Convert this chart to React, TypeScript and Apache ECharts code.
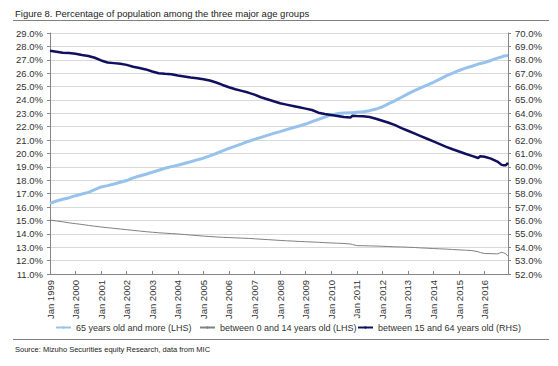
import React, { useEffect, useRef } from "react";
import * as echarts from "echarts";

const TITLE = "Figure 8. Percentage of population among the three major age groups";
const SOURCE = "Source: Mizuho Securities equity Research, data from MIC";

const dates = [
  "1999-01", "1999-04", "1999-07", "1999-10",
  "2000-01", "2000-04", "2000-07", "2000-10",
  "2001-01", "2001-04", "2001-07", "2001-10",
  "2002-01", "2002-04", "2002-07", "2002-10",
  "2003-01", "2003-04", "2003-07", "2003-10",
  "2004-01", "2004-04", "2004-07", "2004-10",
  "2005-01", "2005-04", "2005-07", "2005-10",
  "2006-01", "2006-04", "2006-07", "2006-10",
  "2007-01", "2007-04", "2007-07", "2007-10",
  "2008-01", "2008-04", "2008-07", "2008-10",
  "2009-01", "2009-04", "2009-07", "2009-10",
  "2010-01", "2010-04", "2010-07", "2010-10", "2010-11",
  "2011-01", "2011-04", "2011-07", "2011-10",
  "2012-01", "2012-04", "2012-07", "2012-10",
  "2013-01", "2013-04", "2013-07", "2013-10",
  "2014-01", "2014-04", "2014-07", "2014-10",
  "2015-01", "2015-04", "2015-07", "2015-10", "2015-11",
  "2016-01", "2016-04", "2016-07", "2016-09", "2016-10", "2016-11", "2016-12",
];

// 65 years old and more (LHS, %)
const aged65Plus = [
  16.28, 16.45, 16.58, 16.7,
  16.85, 16.97, 17.1, 17.3,
  17.5, 17.6, 17.72, 17.85,
  17.98, 18.18, 18.32, 18.45,
  18.6, 18.75, 18.9, 19.02,
  19.12, 19.25, 19.38, 19.52,
  19.65, 19.82, 20.0, 20.2,
  20.38, 20.55, 20.72, 20.9,
  21.05, 21.2, 21.35, 21.5,
  21.63, 21.78, 21.92, 22.05,
  22.2, 22.38, 22.55, 22.72,
  22.88, 22.98, 23.02, 23.05, 23.05,
  23.08, 23.12, 23.2, 23.32,
  23.48, 23.72, 23.95, 24.2,
  24.45, 24.69, 24.9, 25.1,
  25.32, 25.55, 25.8, 26.0,
  26.2, 26.38, 26.52, 26.68, 26.72,
  26.8, 26.95, 27.12, 27.22, 27.28, 27.3, 27.33,
];

// between 0 and 14 years old (LHS, %)
const aged0to14 = [
  15.03, 14.96, 14.9, 14.82,
  14.76, 14.7, 14.63, 14.57,
  14.51, 14.46, 14.41, 14.36,
  14.31, 14.26, 14.21, 14.16,
  14.12, 14.08, 14.05, 14.02,
  13.99, 13.95, 13.91, 13.87,
  13.83, 13.8, 13.77, 13.74,
  13.72, 13.7, 13.68, 13.66,
  13.63, 13.6, 13.57, 13.54,
  13.51, 13.48, 13.46, 13.43,
  13.41, 13.39, 13.37, 13.34,
  13.32, 13.3, 13.28, 13.24, 13.2,
  13.12, 13.11, 13.1, 13.09,
  13.07, 13.05, 13.03, 13.02,
  13.0, 12.98, 12.95, 12.93,
  12.9, 12.88, 12.86, 12.83,
  12.8, 12.78, 12.75, 12.66, 12.6,
  12.53, 12.52, 12.5, 12.62, 12.58, 12.5, 12.32,
];

// between 15 and 64 years old (RHS, %)
const aged15to64 = [
  68.68, 68.6, 68.52, 68.5,
  68.45, 68.35, 68.28, 68.15,
  67.95, 67.8, 67.75, 67.7,
  67.62, 67.48, 67.38, 67.28,
  67.12, 66.99, 66.95, 66.92,
  66.82, 66.75, 66.68, 66.62,
  66.55, 66.45, 66.3, 66.12,
  65.95, 65.8, 65.68, 65.55,
  65.4, 65.2, 65.05, 64.9,
  64.75, 64.65, 64.55, 64.45,
  64.35, 64.25, 64.05, 63.95,
  63.88, 63.8, 63.72, 63.68, 63.82,
  63.8, 63.78, 63.72, 63.6,
  63.45, 63.3, 63.12, 62.9,
  62.7, 62.5, 62.3, 62.1,
  61.9, 61.7, 61.5, 61.32,
  61.15, 60.98, 60.82, 60.66, 60.8,
  60.76, 60.62, 60.4, 60.15, 60.13, 60.12, 60.3,
];

const seriesNames = [
  "65 years old and more (LHS)",
  "between 0 and 14 years old (LHS)",
  "between 15 and 64 years old (RHS)",
];

const START_YEAR = 1999;
const LAST_MONTH = 215; // Dec 2016, months after Jan 1999

const monthOffset = (d: string) => {
  const [y, m] = d.split("-").map(Number);
  return (y - START_YEAR) * 12 + (m - 1);
};

const pairs = (vals: number[]) => dates.map((d, i) => [monthOffset(d), vals[i]]);

const FONT = "Liberation Sans, Arial, sans-serif";
const TXT = "#333333";
const AXIS = "#868686";
const COLORS = ["#97c2ec", "#808080", "#10105f"];
const WIDTHS = [3, 1, 2.5];
const LEGEND_LEFT = [55, 199, 357];

export default function App() {
  const ref = useRef<HTMLDivElement>(null);
  useEffect(() => {
    if (!ref.current) return;
    const chart = echarts.init(ref.current, undefined, { renderer: "svg" });
    chart.setOption({
      animation: false,
      backgroundColor: "#ffffff",
      textStyle: { fontFamily: FONT },
      grid: { left: 50, right: 50, top: 33, height: 241, containLabel: false },
      xAxis: {
        type: "value",
        min: 0,
        max: LAST_MONTH,
        interval: 12,
        axisLine: { lineStyle: { color: AXIS, width: 1 } },
        axisTick: { inside: true, length: 3, lineStyle: { color: AXIS } },
        splitLine: { show: false },
        axisLabel: {
          rotate: 90,
          fontSize: 9.5,
          color: TXT,
          fontFamily: FONT,
          margin: 6,
          showMaxLabel: false,
          formatter: (v: number) => (v % 12 === 0 ? "Jan " + (START_YEAR + v / 12) : ""),
        },
      },
      yAxis: [
        {
          type: "value",
          min: 11,
          max: 29,
          interval: 1,
          axisLine: { show: true, lineStyle: { color: AXIS } },
          axisTick: { show: true, length: 3, lineStyle: { color: AXIS } },
          splitLine: { show: true, lineStyle: { color: "#d9d9d9", width: 1 } },
          axisLabel: {
            fontSize: 9.5,
            color: TXT,
            fontFamily: FONT,
            margin: 7,
            formatter: (v: number) => v.toFixed(1) + "%",
          },
        },
        {
          type: "value",
          min: 52,
          max: 70,
          interval: 1,
          position: "right",
          axisLine: { show: true, lineStyle: { color: AXIS } },
          axisTick: { show: true, length: 3, lineStyle: { color: AXIS } },
          splitLine: { show: false },
          axisLabel: {
            fontSize: 9.5,
            color: TXT,
            fontFamily: FONT,
            margin: 7,
            formatter: (v: number) => v.toFixed(1) + "%",
          },
        },
      ],
      legend: seriesNames.map((name, i) => ({
        left: LEGEND_LEFT[i],
        top: 323,
        itemWidth: 15,
        itemHeight: 3,
        itemGap: 0,
        padding: 0,
        textStyle: { fontSize: 9, color: TXT, fontFamily: FONT },
        data: [name],
      })),
      series: seriesNames.map((name, i) => ({
        name,
        type: "line",
        yAxisIndex: i === 2 ? 1 : 0,
        showSymbol: false,
        symbol: "none",
        data: pairs([aged65Plus, aged0to14, aged15to64][i]),
        lineStyle: { color: COLORS[i], width: WIDTHS[i] },
        itemStyle: { color: COLORS[i] },
      })),
      graphic: [
        {
          type: "text",
          left: 15,
          top: 8,
          style: { text: TITLE, font: `9.5px ${FONT}`, fill: "#222222" },
        },
        {
          type: "line",
          shape: { x1: 13, y1: 20.5, x2: 549, y2: 20.5 },
          style: { stroke: "#7f7f7f", lineWidth: 1 },
        },
        {
          type: "line",
          shape: { x1: 13, y1: 339.5, x2: 549, y2: 339.5 },
          style: { stroke: "#7f7f7f", lineWidth: 1 },
        },
        {
          type: "text",
          left: 15,
          top: 345,
          style: { text: SOURCE, font: `7.5px ${FONT}`, fill: "#222222" },
        },
      ],
    });
    return () => chart.dispose();
  }, []);
  return (
    <div
      ref={ref}
      style={{ position: "fixed", left: 0, top: 0, width: 558, height: 366, background: "#fff" }}
    />
  );
}
